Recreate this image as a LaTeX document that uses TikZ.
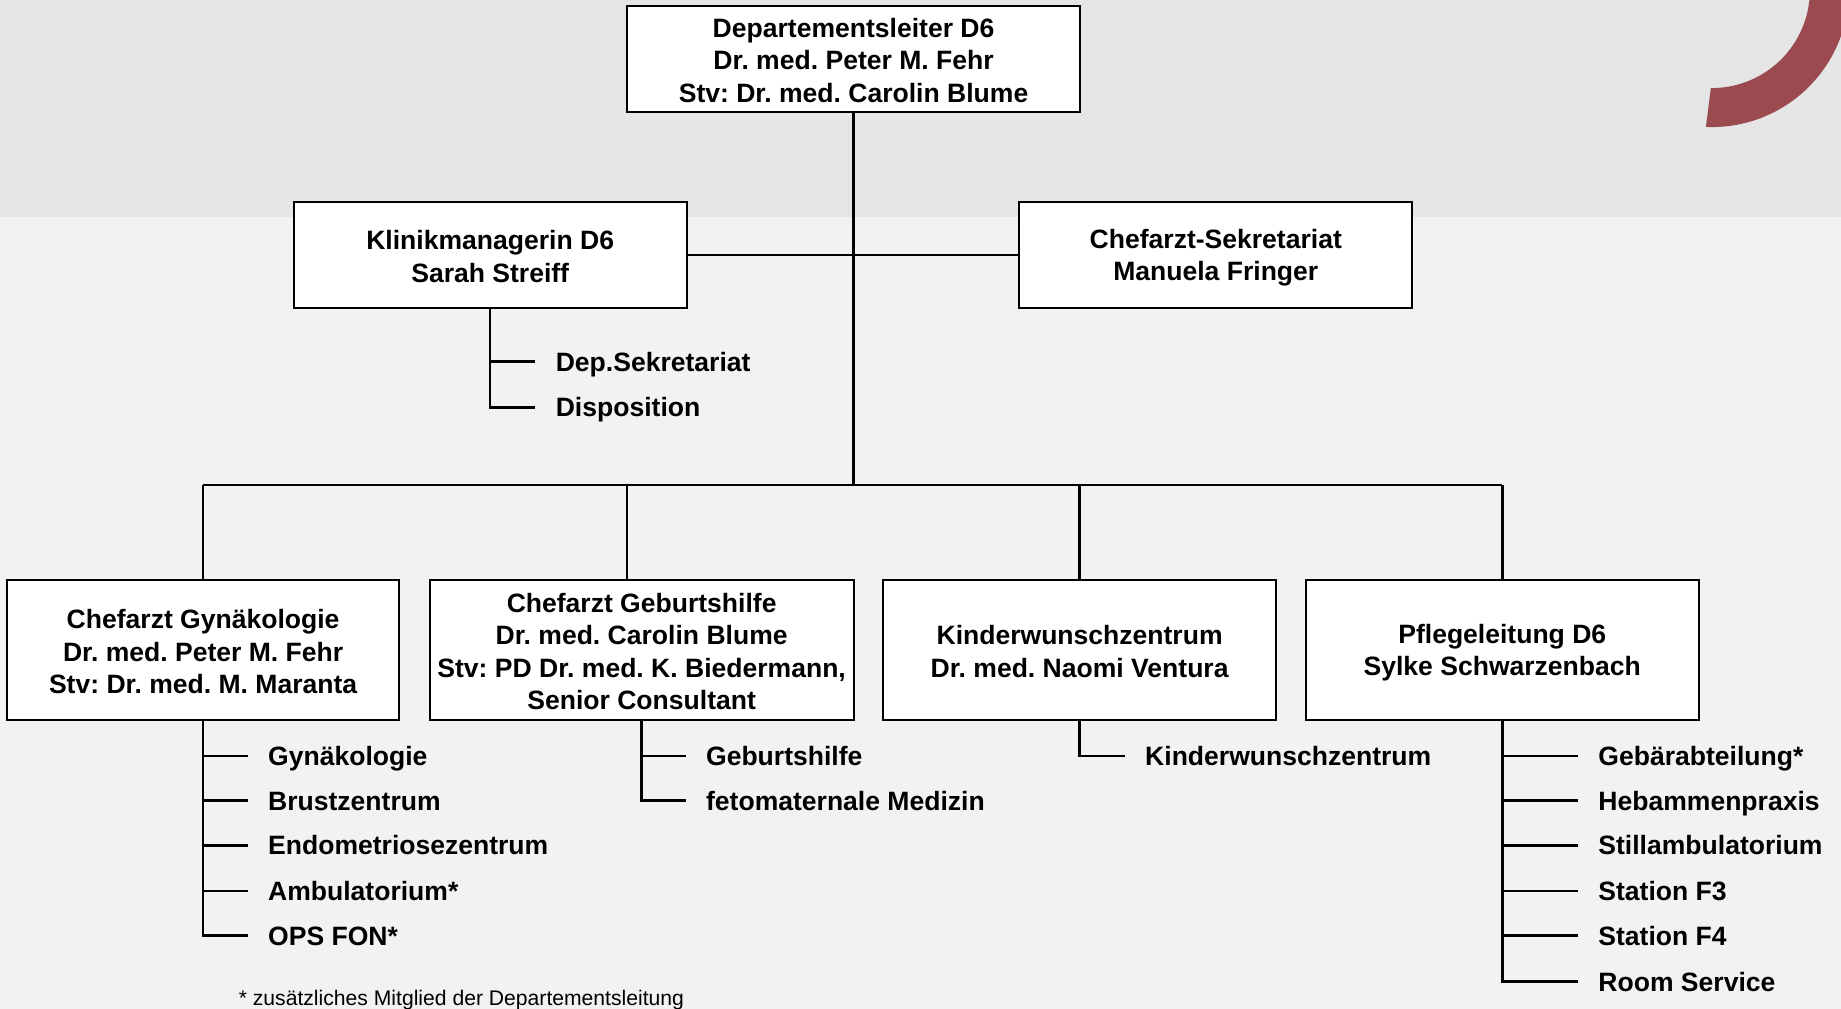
\documentclass[tikz,border=0pt]{standalone}
\usepackage{fontspec}
\setmainfont{Liberation Sans}
\usetikzlibrary{calc}
\definecolor{bgtop}{RGB}{229,229,229}
\definecolor{bgbot}{RGB}{242,242,242}
\definecolor{arccol}{RGB}{155,74,80}
\newcommand\orgfont{\fontsize{11.3}{13.75}\selectfont\bfseries\frenchspacing}
\newcommand\ostrut{\rule[-1pt]{0pt}{11.5pt}}
\begin{document}
\begin{tikzpicture}[x=0.5pt,y=-0.5pt,
  orgbox/.style={draw=black, line width=0.85pt, fill=white, inner sep=0pt, align=center, font=\orgfont},
  item/.style={anchor=west, inner ysep=0pt, inner xsep=8.5pt, text height=8.1pt, text depth=0pt, font=\orgfont},
  conn/.style={line width=1.1pt}]
% background
\useasboundingbox (0,0) rectangle (1568,859);
\fill[bgbot] (0,0) rectangle (1568,859);
\fill[bgtop] (0,0) rectangle (1568,185);
\begin{scope}
\clip (0,0) rectangle (1568,859);
\fill[arccol] ($(1458,-8.5)+(92.5:116.7)$) arc[start angle=92.5, end angle=-30, radius=116.7]
  -- ($(1458,-8.5)+(-30:83.5)$) arc[start angle=-30, end angle=90.6, radius=83.5] -- cycle;
\end{scope}

% boxes
\node[orgbox, minimum width=193pt, minimum height=45pt] (top) at (727,50)
  {\ostrut Departementsleiter D6\\\ostrut Dr. med. Peter M. Fehr\\\ostrut Stv: Dr. med. Carolin Blume};
\node[orgbox, minimum width=167.5pt, minimum height=45pt] (klinik) at (417.5,217)
  {\ostrut Klinikmanagerin D6\\\ostrut Sarah Streiff};
\node[orgbox, minimum width=167.5pt, minimum height=45pt] (sek) at (1035.5,217)
  {\ostrut Chefarzt-Sekretariat\\\ostrut Manuela Fringer};
\node[orgbox, minimum width=167pt, minimum height=59.5pt] (gyn) at (173,553.5)
  {\ostrut Chefarzt Gynäkologie\\\ostrut Dr. med. Peter M. Fehr\\\ostrut Stv: Dr. med. M. Maranta};
\node[orgbox, minimum width=180.5pt, minimum height=59.5pt] (geb) at (546.5,553.5)
  {\ostrut Chefarzt Geburtshilfe\\\ostrut Dr. med. Carolin Blume\\\ostrut Stv: PD Dr. med. K. Biedermann,\\\ostrut Senior Consultant};
\node[orgbox, minimum width=167.5pt, minimum height=59.5pt] (kiwu) at (919.5,553.5)
  {\ostrut Kinderwunschzentrum\\\ostrut Dr. med. Naomi Ventura};
\node[orgbox, minimum width=167.5pt, minimum height=59.5pt] (pfl) at (1279.5,553.5)
  {\ostrut Pflegeleitung D6\\\ostrut Sylke Schwarzenbach};

% main connectors
\coordinate (bus) at (727,413);
\coordinate (gebdrop) at (534,413);
\draw[conn] (top.south) -- (bus);
\draw[conn] (klinik.east) -- (sek.west);
\draw[conn] (gyn.north |- bus) -- (pfl.north |- bus);
\draw[conn] (gyn.north) -- (gyn.north |- bus);
\draw[conn] (gebdrop) -- (gebdrop |- geb.north);
\draw[conn] (kiwu.north) -- (kiwu.north |- bus);
\draw[conn] (pfl.north) -- (pfl.north |- bus);

% sub items: Klinik
\node[item] (k1) at (456,308) {Dep.Sekretariat};
\node[item] (k2) at (456,347) {Disposition};
\draw[conn] (klinik.south) |- (k2.west);
\draw[conn] (klinik.south |- k1.west) -- (k1.west);

% Gyn
\node[item] (g1) at (211,644) {Gynäkologie};
\node[item] (g2) at (211,682) {Brustzentrum};
\node[item] (g3) at (211,720) {Endometriosezentrum};
\node[item] (g4) at (211,759) {Ambulatorium*};
\node[item] (g5) at (211,797) {OPS FON*};
\draw[conn] (gyn.south) |- (g5.west);
\foreach \n in {g1,g2,g3,g4} \draw[conn] (gyn.south |- \n.west) -- (\n.west);

% Geburtshilfe
\node[item] (b1) at (584,644) {Geburtshilfe};
\node[item] (b2) at (584,682) {fetomaternale Medizin};
\draw[conn] (geb.south) |- (b2.west);
\draw[conn] (geb.south |- b1.west) -- (b1.west);

% Kinderwunsch
\node[item] (w1) at (958,644) {Kinderwunschzentrum};
\draw[conn] (kiwu.south) |- (w1.west);

% Pflege
\node[item] (p1) at (1344,644) {Gebärabteilung*};
\node[item] (p2) at (1344,682) {Hebammenpraxis};
\node[item] (p3) at (1344,720) {Stillambulatorium};
\node[item] (p4) at (1344,759) {Station F3};
\node[item] (p5) at (1344,797) {Station F4};
\node[item] (p6) at (1344,836) {Room Service};
\draw[conn] (pfl.south) |- (p6.west);
\foreach \n in {p1,p2,p3,p4,p5} \draw[conn] (pfl.south |- \n.west) -- (\n.west);

% footnote
\node[anchor=west, inner sep=0pt, font=\fontsize{9}{11}\selectfont] (fn) at (203,852)
  {* zusätzliches Mitglied der Departementsleitung};
\end{tikzpicture}
\end{document}
